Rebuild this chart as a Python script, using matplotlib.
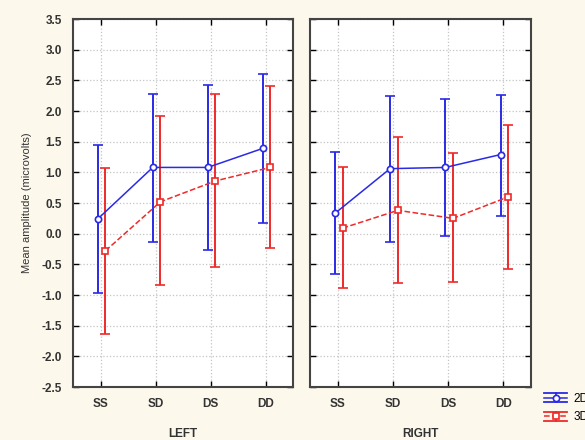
import numpy as np
import matplotlib.pyplot as plt
from matplotlib.legend_handler import HandlerBase
from matplotlib.lines import Line2D

conds = ['SS', 'SD', 'DS', 'DD']
panels = ['LEFT', 'RIGHT']

# mean, upper and lower limits
left_2d_mean = [0.24, 1.08, 1.08, 1.39]
left_2d_hi = [1.45, 2.28, 2.43, 2.60]
left_2d_lo = [-0.96, -0.14, -0.26, 0.18]
left_3d_mean = [-0.28, 0.52, 0.86, 1.08]
left_3d_hi = [1.07, 1.92, 2.28, 2.41]
left_3d_lo = [-1.64, -0.84, -0.54, -0.23]

right_2d_mean = [0.33, 1.06, 1.08, 1.29]
right_2d_hi = [1.33, 2.24, 2.19, 2.26]
right_2d_lo = [-0.65, -0.13, -0.03, 0.29]
right_3d_mean = [0.09, 0.38, 0.25, 0.60]
right_3d_hi = [1.09, 1.58, 1.31, 1.77]
right_3d_lo = [-0.89, -0.80, -0.79, -0.57]

blue = '#2a2ae6'
red = '#ee2a2a'
bg = '#fcf8ec'
txt = '#333333'

plt.rcParams['font.family'] = ['Liberation Sans', 'DejaVu Sans']


class ErrHandle(HandlerBase):
    # legend key like the original: cap lines above/below, marker on the mean line
    def create_artists(self, legend, orig, xd, yd, w, h, fontsize, trans):
        c, ls, mk = orig
        mid = h / 2 - yd
        top, bot = mid + h * 0.55, mid - h * 0.55
        x0, x1 = -xd, -xd + w
        xc = (x0 + x1) / 2
        arts = [
            Line2D([x0, x1], [top, top], color=c, lw=1.3),
            Line2D([x0, x1], [bot, bot], color=c, lw=1.3),
            Line2D([xc, xc], [bot, top], color=c, lw=1.3),
            Line2D([x0, x1], [mid, mid], color=c, lw=1.1, ls=ls),
            Line2D([xc], [mid], color=c, marker=mk, ms=4.5, mfc='white', mew=1.2, ls=''),
        ]
        for a in arts:
            a.set_transform(trans)
        return arts


fig = plt.figure(figsize=(5.85, 4.4), dpi=100, facecolor=bg)
W, H = 585, 440
ax1 = fig.add_axes([73 / W, 1 - 387 / H, 220 / W, 368 / H])
ax2 = fig.add_axes([310 / W, 1 - 387 / H, 221 / W, 368 / H])

data = [
    (left_2d_mean, left_2d_hi, left_2d_lo, left_3d_mean, left_3d_hi, left_3d_lo),
    (right_2d_mean, right_2d_hi, right_2d_lo, right_3d_mean, right_3d_hi, right_3d_lo),
]

x = np.arange(len(conds))
for ax, name, d in zip([ax1, ax2], panels, data):
    m2, h2, l2, m3, h3, l3 = [np.array(v) for v in d]
    ax.errorbar(x - 0.05, m2, yerr=[m2 - l2, h2 - m2], color=blue, lw=1.1,
                marker='o', ms=4.5, mfc='white', mec=blue, mew=1.2,
                capsize=3.5, capthick=1.2, elinewidth=1.4, zorder=3)
    e2 = ax.errorbar(x + 0.09, m3, yerr=[m3 - l3, h3 - m3], color=red, lw=1.1, ls='--',
                     marker='s', ms=4.5, mfc='white', mec=red, mew=1.2,
                     capsize=3.5, capthick=1.2, elinewidth=1.4, zorder=3)
    e2[-1][0].set_linestyle('-')
    ax.set_xlim(-0.5, 3.5)
    ax.set_ylim(-2.5, 3.5)
    ax.set_yticks(np.arange(-2.5, 3.51, 0.5))
    ax.set_xticks(x)
    ax.set_xticklabels(conds)
    ax.grid(True, color='#c4c4c4', ls=':', lw=0.9)
    ax.set_axisbelow(True)
    ax.tick_params(direction='in', top=True, right=True, length=4, width=1,
                   labelsize=8.5, labelcolor=txt, pad=8)
    for s in ax.spines.values():
        s.set_linewidth(1.5)
        s.set_color('#444444')
    ax.set_xlabel(name, fontsize=8.5, color=txt, fontweight='bold', labelpad=13)
    ax.set_facecolor('white')
    for lab in ax.get_xticklabels() + ax.get_yticklabels():
        lab.set_fontweight('bold')

ax1.yaxis.set_major_formatter(plt.FormatStrFormatter('%.1f'))
ax1.set_ylabel('Mean amplitude (microvolts)', fontsize=8, color=txt, labelpad=7)
ax2.tick_params(labelleft=False)

keys = [(blue, '-', 'o'), (red, '--', 's')]
fig.legend(keys, ['2D', '3D'], handler_map={tuple: ErrHandle()}, loc='upper left',
           bbox_to_anchor=(539 / W, 1 - 388 / H), frameon=False, fontsize=8.5,
           handlelength=2.0, borderaxespad=0, labelspacing=0.55, handletextpad=0.5)

fig.savefig('out.png', dpi=100, facecolor=bg)
